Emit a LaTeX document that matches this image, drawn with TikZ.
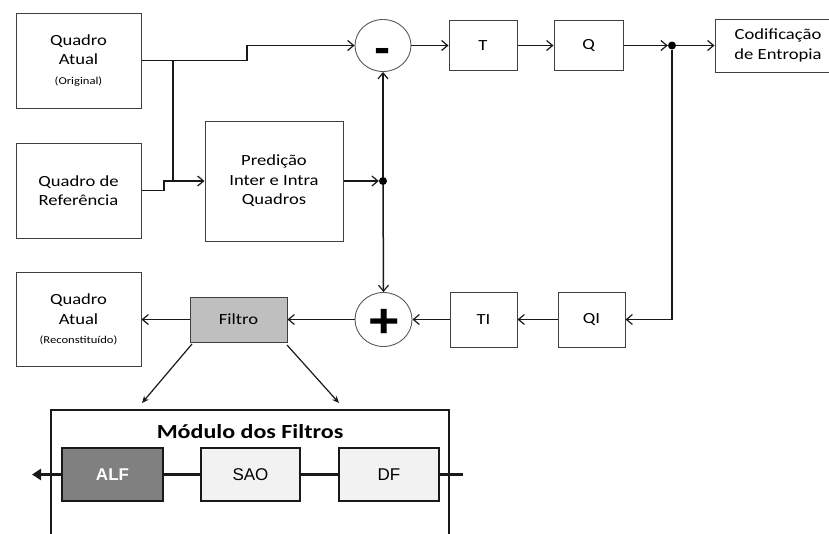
\documentclass[tikz,border=0pt]{standalone}
\usepackage{fontspec}
\setmainfont[FakeStretch=1.2]{Carlito}
\newfontfamily\arialf{Liberation Sans}
\usetikzlibrary{arrows.meta,shapes.geometric}
\newcommand{\smallf}{\fontsize{10.5}{13}\selectfont}
\begin{document}
\begin{tikzpicture}[x=1pt,y=-1pt,
  every node/.style={font=\fontsize{15.5}{19.5}\selectfont, text=black},
  box/.style={draw=black!75, line width=1pt, inner sep=0pt, align=center},
  ell/.style={draw=black!65, line width=0.9pt, ellipse, inner sep=0pt},
  dotn/.style={circle, fill=black, inner sep=0pt, minimum size=8pt},
  conn/.style={draw=black!90, line width=1.5pt},
  arr/.style={conn, -{Straight Barb[length=6pt,width=10pt,line width=1.2pt]}},
  darr/.style={draw=black!90, line width=1.2pt, -{Stealth[length=7pt,width=6pt]}},
  thickl/.style={draw=black!90, line width=2.8pt},
  fbox/.style={draw=black!90, line width=2.8pt, inner sep=0pt, minimum height=53pt, font=\arialf\fontsize{17}{20}\selectfont},
  sym/.style={font=\arialf\bfseries\fontsize{48}{48}\selectfont, anchor=base, inner sep=0pt}
]
\useasboundingbox (0,0) rectangle (829,533);

% blocks
\node[box, minimum width=125pt, minimum height=95pt] (qa) at (78.5,60.5) {Quadro\\Atual\\{\smallf (Original)}};
\node[box, minimum width=125pt, minimum height=95pt] (ref) at (78.5,190.5) {Quadro de\\Referência};
\node[box, minimum width=138pt, minimum height=120pt] (pred) at (274,181) {Predição\\Inter e Intra\\Quadros};
\node[ell, minimum width=56pt, minimum height=52pt] (minus) at (383,45.5) {};
\node[box, minimum width=68pt, minimum height=50pt] (T) at (483,45.5) {T};
\node[box, minimum width=69pt, minimum height=50pt] (Q) at (588.5,45.5) {Q};
\node[dotn] (d2) at (672,45.5) {};
\node[box, minimum width=126pt, minimum height=53pt] (cod) at (778,45.5) {Codificação\\de Entropia};
\node[dotn] (d1) at (383,181) {};

\node[ell, minimum width=57pt, minimum height=54pt] (plus) at (383.5,319.5) {};
\node[box, minimum width=67pt, minimum height=55pt] (TI) at (483.5,319.5) {TI};
\node[box, minimum width=67pt, minimum height=55pt] (QI) at (591.5,319.5) {QI};
\node[box, minimum width=97pt, minimum height=45pt, fill=black!25] (filtro) at (238.5,319.5) {Filtro};
\node[box, minimum width=125pt, minimum height=94pt] (rec) at (78.5,319.5) {Quadro\\Atual\\{\smallf (Reconstituído)}};

% symbols
\node[sym, xscale=1.1, font=\arialf\bfseries\fontsize{44}{44}\selectfont] (msym) at (383,62) {-};
\node[sym, xscale=1.12] (psym) at (384,337) {+};

% top connectors
\coordinate (ja) at (173,60.5);
\draw[arr] (qa.east) -- (247,60.5) |- (minus.west);
\draw[conn] (ja) -- (ja |- pred.west);
\draw[arr] (ref.east) -- (164,190.5) |- (pred.west);
\draw[arr] (pred.east) -- (d1.west);
\draw[arr] (d1.north) -- (minus.south);
\draw[arr] (d1.south) -- (plus.north);
\draw[arr] (minus.east) -- (T.west);
\draw[arr] (T.east) -- (Q.west);
\draw[arr] (Q.east) -- (d2.west);
\draw[arr] (d2.east) -- (cod.west);
\draw[arr] (d2.south) |- (QI.east);
\draw[arr] (QI.west) -- (TI.east);
\draw[arr] (TI.west) -- (plus.east);
\draw[arr] (plus.west) -- (filtro.east);
\draw[arr] (filtro.west) -- (rec.east);

% filter module
\coordinate (fs1) at (192,344);
\coordinate (fs2) at (287,345);
\coordinate (m1) at (142,403);
\coordinate (m2) at (339,403);
\draw[darr] (fs1) -- (m1);
\draw[darr] (fs2) -- (m2);
\draw[thickl] (51,540) -- (51,410) -- (449,410) -- (449,540);
\node[font=\fontsize{20}{24}\selectfont\bfseries] (title) at (250,432) {Módulo dos Filtros};
\node[fbox, minimum width=101pt, fill=black!50, text=white, font=\arialf\bfseries\fontsize{17}{20}\selectfont] (alf) at (112.5,474.5) {ALF};
\node[fbox, minimum width=99pt, fill=black!5] (sao) at (250.5,474.5) {SAO};
\node[fbox, minimum width=100pt, fill=black!5] (df) at (389,474.5) {DF};
\coordinate (fin) at (463,474.5);
\coordinate (fout) at (32,474.5);
\draw[thickl] (fin) -- (df.east);
\draw[thickl] (df.west) -- (sao.east);
\draw[thickl] (sao.west) -- (alf.east);
\draw[thickl, -{Triangle[length=9pt,width=11pt]}] (alf.west) -- (fout);
\end{tikzpicture}
\end{document}
